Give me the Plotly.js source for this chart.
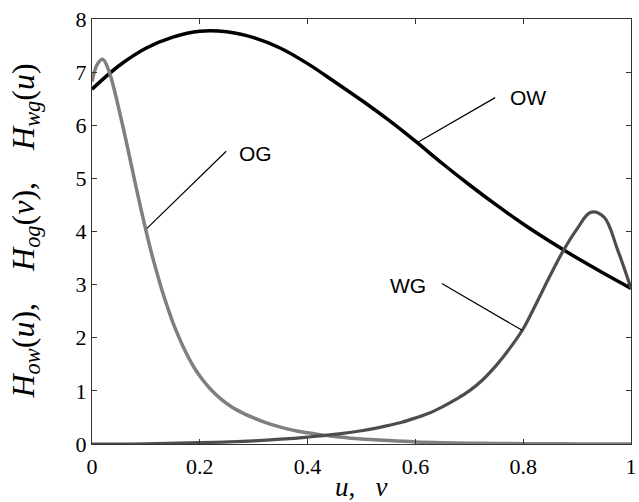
<!DOCTYPE html>
<html>
<head>
<meta charset="utf-8">
<script src="https://cdn.plot.ly/plotly-3.0.1.min.js"></script>
<style>
  html, body { margin: 0; padding: 0; background: #fff; }
  #plot { width: 639px; height: 502px; }
</style>
</head>
<body>
<div id="plot"></div>
<script>
// Oil-water curve H_ow(u)
const owU = [0, 0.05, 0.1, 0.15, 0.2, 0.25, 0.3, 0.35, 0.4, 0.45, 0.5, 0.55, 0.6, 0.65, 0.7, 0.75, 0.8, 0.85, 0.9, 0.95, 1.0];
const owH = [6.68, 7.12, 7.45, 7.66, 7.77, 7.76, 7.65, 7.45, 7.16, 6.82, 6.47, 6.1, 5.7, 5.28, 4.88, 4.5, 4.14, 3.81, 3.5, 3.21, 2.93];

// Oil-gas curve H_og(v)
const ogV = [0, 0.01, 0.02, 0.03, 0.04, 0.05, 0.06, 0.07, 0.08, 0.09, 0.1, 0.11, 0.12, 0.13, 0.14, 0.15, 0.16, 0.17, 0.18, 0.19, 0.2,
             0.22, 0.24, 0.26, 0.28, 0.3, 0.32, 0.34, 0.36, 0.38, 0.4, 0.42, 0.44, 0.46, 0.48, 0.5,
             0.55, 0.6, 0.65, 0.7, 0.75, 0.8, 0.85, 0.9, 0.95, 1.0];
const ogH = [6.82, 7.15, 7.24, 7.06, 6.72, 6.3, 5.86, 5.39, 4.92, 4.46, 4.02, 3.61, 3.24, 2.89, 2.58, 2.29, 2.04, 1.81, 1.61, 1.43, 1.28,
             1.03, 0.84, 0.69, 0.58, 0.49, 0.41, 0.345, 0.29, 0.245, 0.21, 0.18, 0.155, 0.13, 0.11, 0.095,
             0.065, 0.04, 0.025, 0.015, 0.01, 0.005, 0.003, 0.002, 0.001, 0];

// Water-gas curve H_wg(u)
const wgU = [0, 0.1, 0.2, 0.3, 0.35, 0.4, 0.45, 0.5, 0.525, 0.55, 0.575, 0.6, 0.625, 0.65, 0.675, 0.7, 0.725, 0.75, 0.775,
             0.8, 0.825, 0.85, 0.875, 0.9, 0.925, 0.95, 0.975, 1.0];
const wgH = [0, 0.005, 0.025, 0.06, 0.09, 0.13, 0.18, 0.25, 0.295, 0.35, 0.41, 0.49, 0.58, 0.7, 0.84, 1.0, 1.21, 1.48, 1.8,
             2.17, 2.66, 3.17, 3.65, 4.05, 4.36, 4.27, 3.66, 2.93];

// Curve labels with leader lines: [text, label x, label y, line start x, y, line end x, y]
const labels = [
  ['OW', 0.808, 6.53, 0.748, 6.52, 0.603, 5.67],
  ['OG', 0.303, 5.47, 0.249, 5.51, 0.102, 4.06],
  ['WG', 0.587, 2.99, 0.649, 3.02, 0.798, 2.14]
];

const xTicks = [0, 0.2, 0.4, 0.6, 0.8, 1];
const xTickText = ['0', '0.2', '0.4', '0.6', '0.8', '1'];
const yTicks = [0, 1, 2, 3, 4, 5, 6, 7, 8];

const serif = 'Liberation Serif, Times New Roman, serif';

const traces = [
  { x: owU, y: owH, mode: 'lines', line: { color: '#000000', width: 3.5, shape: 'spline', smoothing: 1 } },
  { x: ogV, y: ogH, mode: 'lines', line: { color: '#7f7f7f', width: 3.5, shape: 'spline', smoothing: 1 } },
  { x: wgU, y: wgH, mode: 'lines', line: { color: '#4d4d4d', width: 3.2, shape: 'spline', smoothing: 1 } }
];

const shapes = labels.map(l => ({
  type: 'line', xref: 'x', yref: 'y',
  x0: l[3], y0: l[4], x1: l[5], y1: l[6],
  line: { color: '#000', width: 1.2 }
}));

const annotations = labels.map(l => ({
  text: l[0], x: l[1], y: l[2], xref: 'x', yref: 'y',
  showarrow: false, xanchor: 'center', yanchor: 'middle',
  font: { family: 'Liberation Sans, Arial, sans-serif', size: 21, color: '#000' }
}));

annotations.push({
  text: '<i>H</i><sub><i>ow</i></sub>(<i>u</i>),&#160;&#160;&#160; <i>H</i><sub><i>og</i></sub>(<i>v</i>),&#160;&#160;&#160; <i>H</i><sub><i>wg</i></sub>(<i>u</i>)',
  xref: 'paper', yref: 'paper', x: 0, y: 0.5, xshift: -67,
  textangle: -90, showarrow: false, xanchor: 'center', yanchor: 'middle',
  font: { family: serif, size: 32, color: '#000' }
});
annotations.push({
  text: '<i>u</i>,&#160;&#160; <i>v</i>',
  xref: 'paper', yref: 'paper', x: 0.5, y: 0, yshift: -43,
  showarrow: false, xanchor: 'center', yanchor: 'middle',
  font: { family: serif, size: 27, color: '#000' }
});

const axisCommon = {
  showgrid: false, zeroline: false,
  showline: true, mirror: 'ticks', linecolor: '#333', linewidth: 1.2,
  ticks: 'inside', ticklen: 5, tickcolor: '#333', tickwidth: 1,
  tickfont: { family: serif, size: 22, color: '#000' }
};

const layout = {
  width: 639, height: 502,
  margin: { l: 92, r: 8, t: 19, b: 58 },
  paper_bgcolor: '#fff', plot_bgcolor: '#fff',
  showlegend: false,
  xaxis: Object.assign({}, axisCommon, {
    range: [0, 1], tickvals: xTicks, ticktext: xTickText, ticklabelstandoff: 2
  }),
  yaxis: Object.assign({}, axisCommon, {
    range: [0, 8], tickvals: yTicks
  }),
  shapes: shapes,
  annotations: annotations
};

Plotly.newPlot('plot', traces, layout, { displayModeBar: false, staticPlot: true });
</script>
</body>
</html>
